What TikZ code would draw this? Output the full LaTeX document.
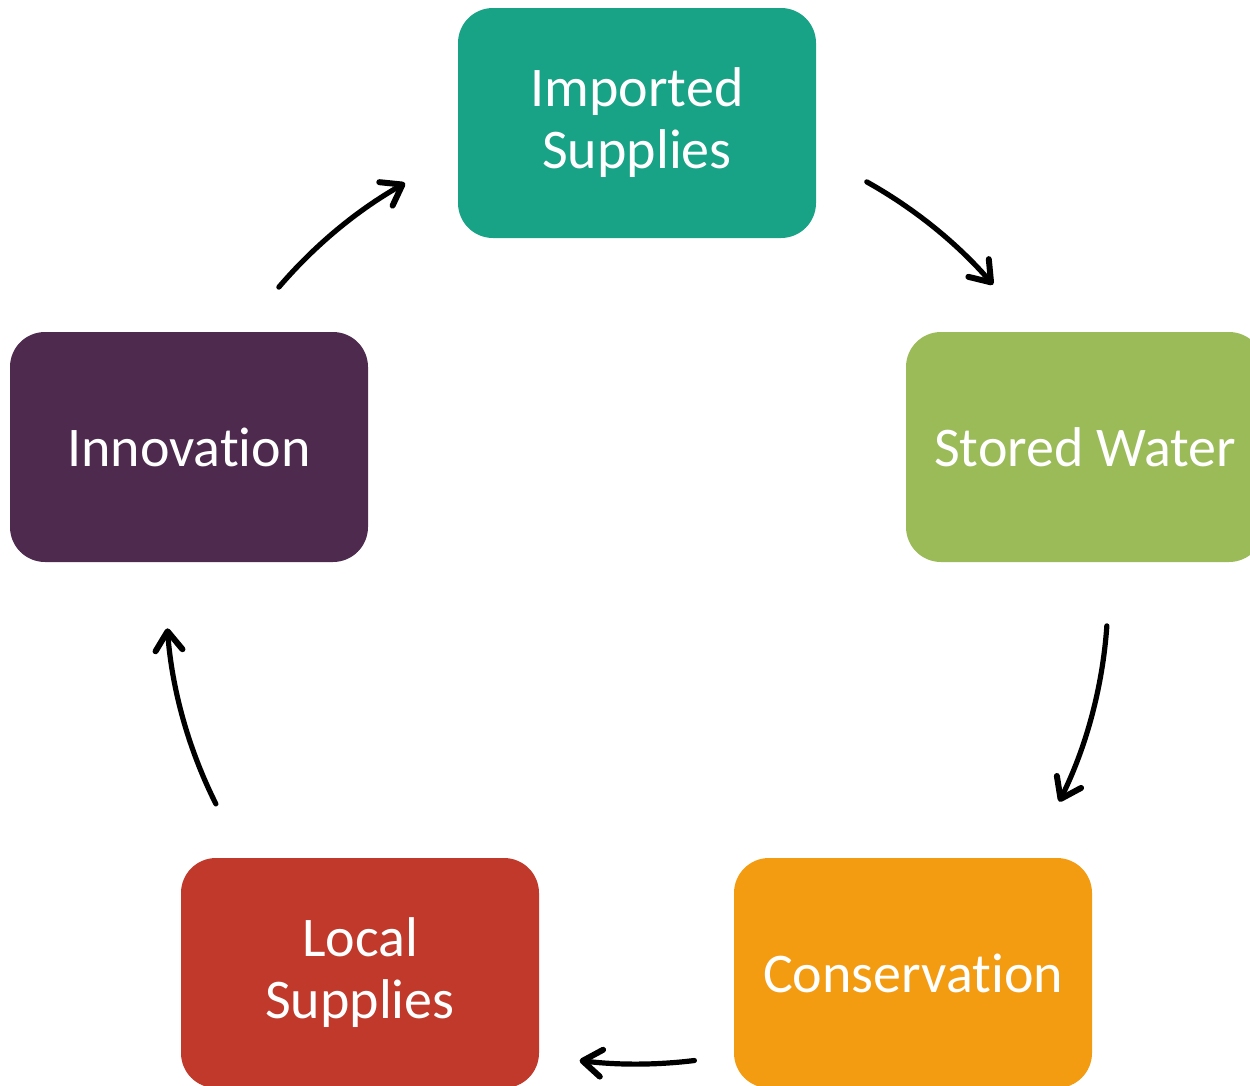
\documentclass[tikz,border=0pt]{standalone}
\usepackage{fontspec}
\setmainfont[Ligatures=CommonOff]{Carlito}
\usetikzlibrary{arrows.meta,calc}
\definecolor{cteal}{HTML}{18A286}
\definecolor{cgreen}{HTML}{9BBB59}
\definecolor{cpurple}{HTML}{4D2A4E}
\definecolor{cred}{HTML}{C0392B}
\definecolor{corange}{HTML}{F39C12}
\begin{document}
\begin{tikzpicture}[x=1pt,y=1pt,
  box/.style={rounded corners=35pt, minimum width=358pt, minimum height=230pt,
    inner sep=0pt, text=white, align=center, font=\fontsize{56}{62}\selectfont},
  arr/.style={line width=5.2pt, line cap=round,
    -{Straight Barb[length=19pt,width=27pt,line width=6pt,line cap=round,line join=round]}}]
\clip (0,0) rectangle (1250,-1085);
\node[box, fill=cteal]   (imp)  at (637,-123)  {Imported\\Supplies};
\node[box, fill=cgreen]  (sto)  at (1085,-447) {Stored Water};
\node[box, fill=corange] (con)  at (913,-973)  {Conservation};
\node[box, fill=cred]    (loc)  at (360,-973)  {Local\\Supplies};
\node[box, fill=cpurple] (inn)  at (189,-447)  {Innovation};
\coordinate (c) at (637,-593);
\coordinate (a1) at ($(c)+(139.5:471)$);
\coordinate (a2) at ($(c)+(60.8:471)$);
\coordinate (a3) at ($(c)+(-4:471)$);
\coordinate (a4) at ($(c)+(-83:471)$);
\coordinate (a5) at ($(c)+(206.6:471)$);
\draw[arr] (a1) arc[start angle=139.5, end angle=119.5, radius=471];
\draw[arr] (a2) arc[start angle=60.8, end angle=40.9, radius=471];
\draw[arr] (a3) arc[start angle=-4, end angle=-26.3, radius=471];
\draw[arr] (a4) arc[start angle=-83, end angle=-97, radius=471];
\draw[arr] (a5) arc[start angle=206.6, end angle=184.3, radius=471];
\end{tikzpicture}
\end{document}
